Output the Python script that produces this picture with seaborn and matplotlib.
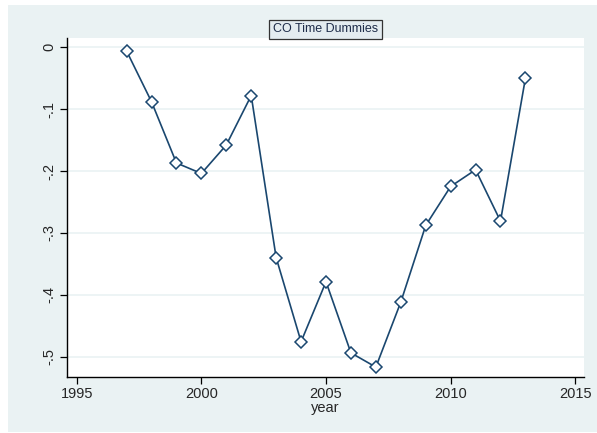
import matplotlib
matplotlib.use("Agg")
import matplotlib.pyplot as plt
from matplotlib.patches import Rectangle
import seaborn as sns
import pandas as pd

# CO time-dummy coefficients by year
years = [1997, 1998, 1999, 2000, 2001, 2002, 2003, 2004, 2005,
         2006, 2007, 2008, 2009, 2010, 2011, 2012, 2013]
coef = [-0.006, -0.088, -0.187, -0.204, -0.158, -0.078, -0.340, -0.476, -0.379,
        -0.494, -0.517, -0.412, -0.288, -0.225, -0.198, -0.281, -0.050]
x_ticks = [1995, 2000, 2005, 2010, 2015]
y_ticks = [0, -0.1, -0.2, -0.3, -0.4, -0.5]
y_tick_labels = ["0", "-.1", "-.2", "-.3", "-.4", "-.5"]
title = "CO Time Dummies"
x_label = "year"

df = pd.DataFrame({"year": years, "coef": coef})

sns.set_style("white")
plt.rcParams["font.family"] = ["Liberation Sans", "DejaVu Sans"]

W, H = 597, 433
fig = plt.figure(figsize=(W / 100, H / 100), dpi=100, facecolor="white")

bg = "#eaf2f3"
navy = "#1a476f"

# outer graph region
fig.patches.append(Rectangle((8 / W, 1 - 432 / H), (W - 8) / W, (432 - 5) / H,
                             transform=fig.transFigure, facecolor=bg,
                             edgecolor="none", zorder=-10))

left, right, top, bottom = 67, 584, 38, 377
ax = fig.add_axes([left / W, 1 - bottom / H, (right - left) / W, (bottom - top) / H])
ax.set_zorder(1)
ax.set_facecolor("white")

sns.lineplot(data=df, x="year", y="coef", ax=ax, color=navy, linewidth=1.2,
             marker="D", markersize=6.5, markerfacecolor="white",
             markeredgecolor=navy, markeredgewidth=1.1, zorder=3)

ax.set_xlim(1994.61, 2015.35)
ax.set_ylim(-0.533, 0.015)
ax.set_xticks(x_ticks)
ax.set_xticklabels([str(t) for t in x_ticks], fontsize=10.5)
ax.set_yticks(y_ticks)
ax.set_yticklabels(y_tick_labels, fontsize=10.5, rotation=90, va="center")
ax.grid(axis="y", color=bg, linewidth=1.2, zorder=0)
ax.grid(axis="x", visible=False)

for s in ["top", "right"]:
    ax.spines[s].set_visible(False)
for s in ["left", "bottom"]:
    ax.spines[s].set_color("black")
    ax.spines[s].set_linewidth(1.0)

ax.tick_params(axis="both", direction="out", length=5, width=0.9, color="black",
               left=True, bottom=True)
ax.tick_params(axis="x", pad=2)
ax.tick_params(axis="y", pad=3)

ax.set_xlabel(x_label, fontsize=10.5, labelpad=0)
ax.set_ylabel("")

fig.text((left + right) / 2 / W, 1 - 29.5 / H, title, ha="center", va="center",
         fontsize=9, color="#1f2d4a", zorder=5,
         bbox=dict(boxstyle="square,pad=0.3", facecolor="#e4ecf0",
                   edgecolor="#333333", linewidth=0.9))

fig.savefig("out.png", dpi=100, facecolor="white")
